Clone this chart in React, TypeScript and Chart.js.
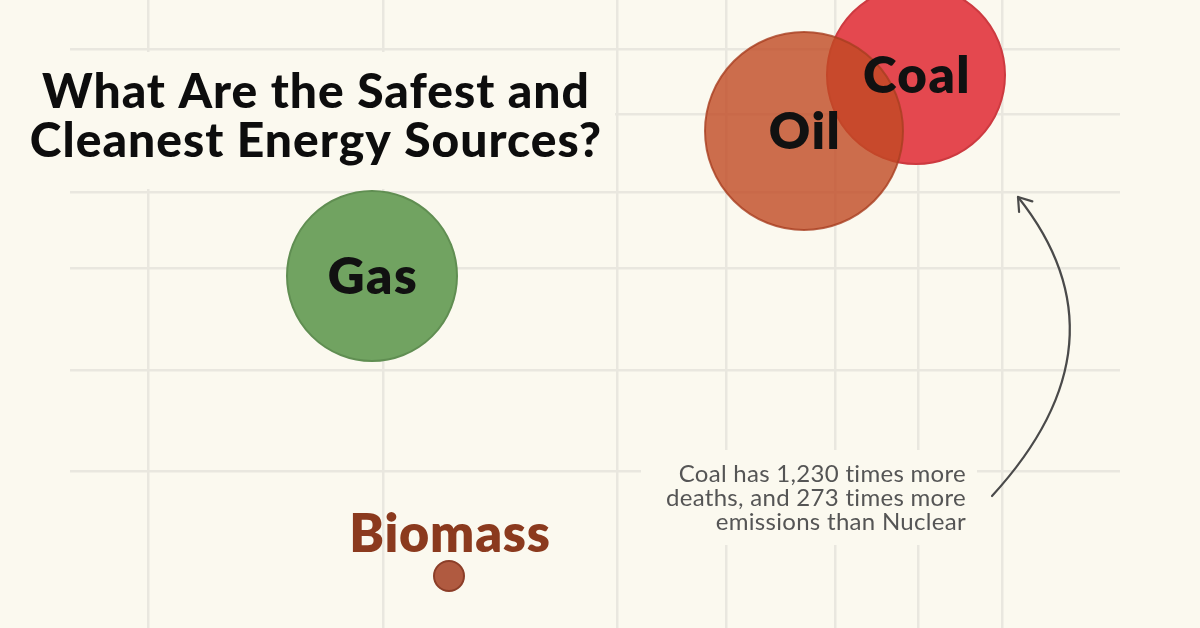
import React, { useEffect, useRef } from "react";
import { Chart, registerables } from "chart.js";

Chart.register(...registerables);

// ---- data (arbitrary position units) ----
const sources = ["Coal", "Oil", "Gas", "Biomass"];
const xValues = [84.6, 73.4, 30.2, 37.9];
const yValues = [55.3, 49.7, 35.2, 5.2];
const bubbleSizes = [89, 99, 85, 15];
const fillColors = ["rgb(228,72,79)", "rgba(193,74,35,0.8)", "rgb(113,163,97)", "rgb(176,90,64)"];
const edgeColors = ["rgb(205,58,64)", "rgba(168,62,32,0.8)", "rgb(96,142,82)", "rgb(140,62,40)"];
const labelColors = ["#111111", "#111111", "#111111", "#8b3a1e"];
const labelPlacement = ["center", "center", "center", "above"];

const xGridValues = [7.8, 31.3, 54.7, 65.6, 76.5, 84.8, 93.2];
const yGridValues = [57.9, 51.4, 43.6, 36.0, 25.8, 15.7];

const titleLines = ["What Are the Safest and", "Cleanest Energy Sources?"];
const noteLines = ["Coal has 1,230 times more", "deaths, and 273 times more", "emissions than Nuclear"];
// note anchor (right edge, first baseline) and arrow path in axis units
const noteAnchor = { x: 89.6, y: 14.6 };
const arrowPath = [
  { x: 92.2, y: 13.2 },
  { x: 101.0, y: 22.8 },
  { x: 103.0, y: 32.8 },
  { x: 94.8, y: 43.1 },
];

const BG = "#fbf9ef";
const GRID = "rgb(233,231,223)";
const FONT = "Lato, 'Noto Sans', 'DejaVu Sans', sans-serif";

function setSpacing(ctx: any, px: number) {
  if ("letterSpacing" in ctx) ctx.letterSpacing = `${px}px`;
}

const decorPlugin = {
  id: "decor",
  beforeDatasetsDraw(chart: any) {
    const ctx = chart.ctx;
    const xs = chart.scales.x;
    const ys = chart.scales.y;
    ctx.save();
    ctx.fillStyle = BG;
    // title backdrop hides the grid behind the heading
    ctx.fillRect(0, 52, 615, 137);
    // note backdrop
    const nx = xs.getPixelForValue(noteAnchor.x);
    const ny = ys.getPixelForValue(noteAnchor.y);
    ctx.fillRect(nx - 325, ny - 32, 336, 95);
    ctx.restore();
  },
  afterDatasetsDraw(chart: any) {
    const ctx = chart.ctx;
    const xs = chart.scales.x;
    const ys = chart.scales.y;
    const meta = chart.getDatasetMeta(0);
    ctx.save();

    // bubble labels
    meta.data.forEach((pt: any, i: number) => {
      const r = bubbleSizes[i];
      ctx.fillStyle = labelColors[i];
      ctx.textAlign = "center";
      ctx.textBaseline = "alphabetic";
      if (labelPlacement[i] === "center") {
        ctx.font = `800 51px ${FONT}`;
        setSpacing(ctx, 1.5);
        ctx.fillText(sources[i], pt.x + 1, pt.y + 18);
      } else {
        ctx.font = `800 52px ${FONT}`;
        setSpacing(ctx, 0.8);
        ctx.fillText(sources[i], pt.x + 1, pt.y - r - 9);
      }
    });

    // title
    ctx.fillStyle = "#0d0d0d";
    ctx.font = `900 48px ${FONT}`;
    setSpacing(ctx, 1);
    ctx.textAlign = "center";
    titleLines.forEach((t, i) => ctx.fillText(t, 316, 108 + i * 49));

    // note
    const nx = xs.getPixelForValue(noteAnchor.x);
    const ny = ys.getPixelForValue(noteAnchor.y);
    ctx.fillStyle = "#555555";
    ctx.font = `400 24px ${FONT}`;
    setSpacing(ctx, 0.3);
    ctx.textAlign = "right";
    noteLines.forEach((t, i) => ctx.fillText(t, nx, ny + i * 24));
    setSpacing(ctx, 0);

    // arrow
    const p = arrowPath.map((a) => ({ x: xs.getPixelForValue(a.x), y: ys.getPixelForValue(a.y) }));
    ctx.strokeStyle = "#4a4a4a";
    ctx.lineWidth = 2.2;
    ctx.lineCap = "round";
    ctx.lineJoin = "round";
    ctx.beginPath();
    ctx.moveTo(p[0].x, p[0].y);
    ctx.bezierCurveTo(p[1].x, p[1].y, p[2].x, p[2].y, p[3].x, p[3].y);
    ctx.stroke();
    const ang = Math.atan2(p[3].y - p[2].y, p[3].x - p[2].x);
    const len = 15;
    ctx.beginPath();
    ctx.moveTo(p[3].x - len * Math.cos(ang - 0.6), p[3].y - len * Math.sin(ang - 0.6));
    ctx.lineTo(p[3].x, p[3].y);
    ctx.lineTo(p[3].x - len * Math.cos(ang + 0.6), p[3].y - len * Math.sin(ang + 0.6));
    ctx.stroke();

    ctx.restore();
  },
};

export default function App() {
  const ref = useRef<HTMLCanvasElement | null>(null);

  useEffect(() => {
    document.body.style.margin = "0";
    document.body.style.background = BG;
    if (!ref.current) return;
    const gridOpts = { color: GRID, lineWidth: 2.5, drawTicks: false };
    const chart = new Chart(ref.current, {
      type: "bubble",
      data: {
        labels: sources,
        datasets: [
          {
            data: sources.map((_, i) => ({ x: xValues[i], y: yValues[i], r: bubbleSizes[i] })),
            backgroundColor: fillColors,
            borderColor: edgeColors,
            borderWidth: 2,
            clip: false,
          } as any,
        ],
      },
      options: {
        animation: false,
        responsive: false,
        devicePixelRatio: 1,
        events: [],
        layout: { autoPadding: false, padding: { left: 70, right: 80, top: 0, bottom: 0 } },
        plugins: { legend: { display: false }, tooltip: { enabled: false }, title: { display: false } },
        scales: {
          x: {
            type: "linear",
            min: 0,
            max: 105,
            grid: gridOpts,
            border: { display: false },
            ticks: { display: false },
            afterBuildTicks: (s: any) => {
              s.ticks = xGridValues.map((v) => ({ value: v }));
            },
          },
          y: {
            type: "linear",
            min: 0,
            max: 62.8,
            grid: gridOpts,
            border: { display: false },
            ticks: { display: false },
            afterBuildTicks: (s: any) => {
              s.ticks = yGridValues.map((v) => ({ value: v }));
            },
          },
        },
      } as any,
      plugins: [decorPlugin],
    });
    return () => chart.destroy();
  }, []);

  return (
    <div style={{ position: "absolute", left: 0, top: 0, width: 1200, height: 628, background: BG, overflow: "hidden" }}>
      <canvas ref={ref} width={1200} height={628} style={{ display: "block", width: 1200, height: 628 }} />
    </div>
  );
}
